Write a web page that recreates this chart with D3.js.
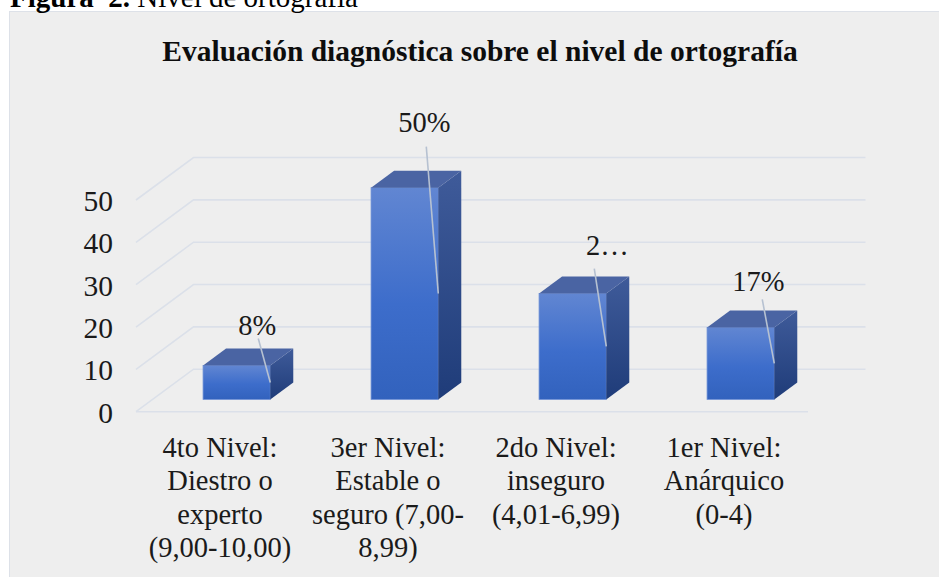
<!DOCTYPE html>
<html>
<head>
<meta charset="utf-8">
<script src="https://cdn.jsdelivr.net/npm/d3@7/dist/d3.min.js"></script>
<style>
  html, body { margin: 0; padding: 0; background: #ffffff; }
  svg { display: block; }
  text { font-family: "Liberation Serif", "Times New Roman", serif; }
</style>
</head>
<body>
<svg id="chart" width="939" height="577"></svg>
<script>
// ---------- DATA ----------
const categories = ["4to Nivel", "3er Nivel", "2do Nivel", "1er Nivel"];
const categoryLines = [
  ["4to Nivel:", "Diestro o", "experto", "(9,00-10,00)"],
  ["3er Nivel:", "Estable o", "seguro (7,00-", "8,99)"],
  ["2do Nivel:", "inseguro", "(4,01-6,99)"],
  ["1er Nivel:", "Anárquico", "(0-4)"]
];
const values = [8, 50, 25, 17];
const dataLabels = ["8%", "50%", "2…", "17%"];
const yTicks = [0, 10, 20, 30, 40, 50];
const titleText = "Evaluación diagnóstica sobre el nivel de ortografía";
const captionBold = "Figura  2.";
const captionText = " Nivel de ortografía";

// ---------- LAYOUT ----------
const FONT = "Liberation Serif, Times New Roman, serif";
const svg = d3.select("#chart");
const DX = 57.5, DY = -42.5;        // 3D depth offset of the plot floor
const F0 = 0.29, F1 = 0.69;         // bar depth span (fraction of floor depth)
// manual data-label placement (relative to bar front-right edge / top)
const labelDx   = [-13, -14, 1, -16];
const labelLift = [31, 56, 39, 36];
const leaderGap = [4, 15, 14, 8];

const x = d3.scaleBand().domain(categories).range([136, 808])
  .paddingInner(0.6).paddingOuter(0.3);
const xCat = d3.scaleBand().domain(categories).range([136, 808]);
const y = d3.scaleLinear().domain([0, 50]).range([411.7, 200]);

// background box
svg.append("rect").attr("x", 9.5).attr("y", 11.5).attr("width", 940).attr("height", 580)
  .attr("fill", "#eeeeee").attr("stroke", "#dde1e8").attr("stroke-width", 1);

// caption (clipped at top, as in the source figure)
const cap = svg.append("text").attr("x", 10).attr("y", 7).attr("font-size", 29).attr("fill", "#000")
  .attr("font-family", FONT).attr("xml:space", "preserve");
cap.append("tspan").attr("font-weight", "bold").text(captionBold);
cap.append("tspan").text(captionText);

// title
svg.append("text").attr("x", 480).attr("y", 61).attr("text-anchor", "middle")
  .attr("font-family", FONT).attr("font-size", 29.5).attr("font-weight", "bold")
  .attr("fill", "#0d0d0d").text(titleText);

// defs
const defs = svg.append("defs");
const gF = defs.append("linearGradient").attr("id", "gFront").attr("x1", 0).attr("y1", 0).attr("x2", 0).attr("y2", 1);
gF.append("stop").attr("offset", "0%").attr("stop-color", "#6186d2");
gF.append("stop").attr("offset", "55%").attr("stop-color", "#3d6dcb");
gF.append("stop").attr("offset", "100%").attr("stop-color", "#3262bd");
const gS = defs.append("linearGradient").attr("id", "gSide").attr("x1", 0).attr("y1", 0).attr("x2", 0).attr("y2", 1);
gS.append("stop").attr("offset", "0%").attr("stop-color", "#3f5b9a");
gS.append("stop").attr("offset", "100%").attr("stop-color", "#1f3c79");

// gridlines (left wall diagonals + back wall horizontals)
const [xa, xb] = x.range();
const grid = svg.append("g").attr("stroke", "#dbe0e9").attr("stroke-width", 1.6).attr("fill", "none");
yTicks.forEach(t => {
  grid.append("path").attr("d",
    `M${xa},${y(t)} L${xa + DX},${y(t) + DY} L${xb + DX},${y(t) + DY}`);
});
grid.append("line").attr("x1", xa).attr("y1", y(0)).attr("x2", xb).attr("y2", y(0));

// y axis labels
const yAxis = d3.axisLeft(y).tickValues(yTicks).tickSize(0).tickPadding(23).tickFormat(d3.format("d"));
const ya = svg.append("g").attr("transform", `translate(${xa},0)`).call(yAxis)
  .attr("font-family", FONT).attr("font-size", 29.5);
ya.select(".domain").remove();
ya.selectAll("text").attr("fill", "#1a1a1a").attr("dy", "0.36em");

// bars
const bw = x.bandwidth();
const bdx = DX * (F1 - F0), bdy = DY * (F1 - F0);
const bars = svg.append("g");
categories.forEach((c, i) => {
  const xl = x(c) + DX * F0, xr = xl + bw;
  const yb = y(0) + DY * F0, yt = y(values[i]) + DY * F0;
  const g = bars.append("g");
  g.append("rect").attr("x", xl).attr("y", yt).attr("width", bw).attr("height", yb - yt)
    .attr("fill", "url(#gFront)").attr("stroke", "#6b8ed6").attr("stroke-width", 0.8);
  g.append("path").attr("d",
    `M${xr},${yt} L${xr + bdx},${yt + bdy} L${xr + bdx},${yb + bdy} L${xr},${yb} Z`)
    .attr("fill", "url(#gSide)");
  g.append("path").attr("d",
    `M${xl},${yt} L${xr},${yt} L${xr + bdx},${yt + bdy} L${xl + bdx},${yt + bdy} Z`)
    .attr("fill", "#4a64a3");
});

// data labels with leader lines
const lab = svg.append("g");
categories.forEach((c, i) => {
  const xl = x(c) + DX * F0, xr = xl + bw;
  const yb = y(0) + DY * F0, yt = y(values[i]) + DY * F0;
  const base = yt - labelLift[i];
  lab.append("line").attr("x1", xr - 12).attr("y1", base + leaderGap[i])
    .attr("x2", xr).attr("y2", (yt + yb) / 2)
    .attr("stroke", "#b6c1d1").attr("stroke-width", 1.6);
  lab.append("text").attr("x", xr + labelDx[i]).attr("y", base).attr("text-anchor", "middle")
    .attr("font-family", FONT).attr("font-size", 28.5).attr("fill", "#1a1a1a").text(dataLabels[i]);
});

// category labels
const cl = svg.append("g");
categories.forEach((c, i) => {
  const cx = xCat(c) + xCat.bandwidth() / 2;
  const t = cl.append("text").attr("text-anchor", "middle").attr("font-family", FONT)
    .attr("font-size", 28.5).attr("fill", "#1a1a1a");
  categoryLines[i].forEach((line, j) => {
    t.append("tspan").attr("x", cx).attr("y", 457 + j * 33.3).text(line);
  });
});
</script>
</body>
</html>
